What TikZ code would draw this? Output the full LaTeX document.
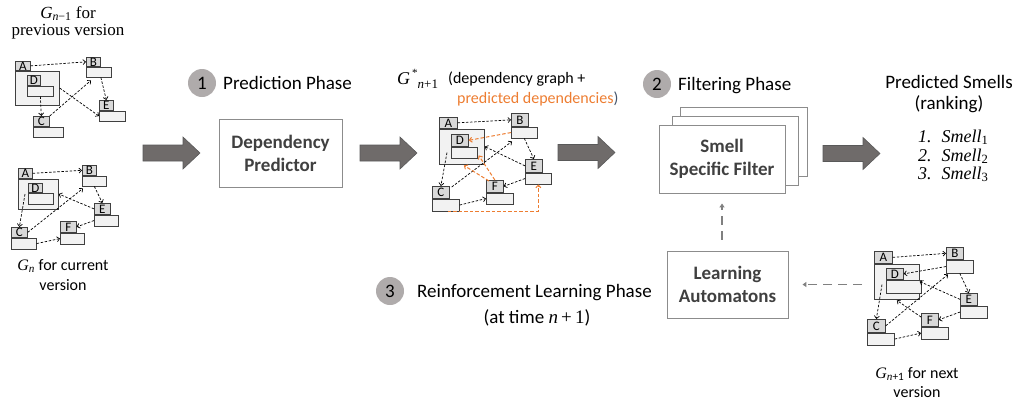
\documentclass[tikz,border=0pt]{standalone}
\usepackage{fontspec}
\newfontfamily\calibri{Carlito}
\newfontfamily\cambria{Liberation Serif}
\usetikzlibrary{arrows.meta,calc}

\definecolor{orangeC}{HTML}{ED7D31}
\definecolor{parenC}{HTML}{44546A}
\definecolor{circleC}{HTML}{AFABAB}
\definecolor{arrowC}{HTML}{6F6B6A}
\definecolor{arrowEdge}{HTML}{595959}
\definecolor{boxEdge}{HTML}{8C8C8C}
\definecolor{boxText}{HTML}{404040}
\definecolor{tabC}{HTML}{D9D9D9}
\definecolor{bodyC}{HTML}{F2F2F2}
\definecolor{clsEdge}{HTML}{404040}
\definecolor{feedC}{HTML}{808080}

% italic and upright formula text set in a text serif
\newcommand\mi[1]{{\cambria\itshape #1}}
\newcommand\mup[1]{{\cambria #1}}

% one class of a dependency graph: a tab with its letter and a body below it
% #1 name prefix, #2 letter, #3/#4 top-left corner, #5/#6 tab size, #7/#8 body size
\newcommand\cls[8]{%
  \node[tabbox, minimum width=#5, minimum height=#6, anchor=north west] (#1t) at (#3,#4) {#2};
  \node[bodybox, minimum width=#7, minimum height=#8, anchor=north west] (#1b) at (#1t.south west) {};
}

% wide block arrow between the stages, #1/#2 = tail end of the shaft (centre line)
\newcommand\fatarrow[2]{%
  \draw[fatarrow] (#1,#2) ++(0,-8) -- ++(40,0) -- ++(0,-8) -- ++(17,16)
        -- ++(-17,16) -- ++(0,-8) -- ++(-40,0) -- cycle;
}

\tikzset{
  phasebox/.style={draw=boxEdge, line width=0.9pt, fill=white, inner sep=0,
    font=\calibri\bfseries\fontsize{19}{23}\selectfont, text=boxText, align=center},
  stepnum/.style={circle, fill=circleC, minimum size=28pt, inner sep=0,
    font=\calibri\fontsize{19}{19}\selectfont},
  captxt/.style={font=\calibri\fontsize{19}{23}\selectfont, inner sep=0, align=center},
  graphcap/.style={font=\calibri\fontsize{16}{20}\selectfont, inner sep=0, align=center},
  serifcap/.style={font=\cambria\fontsize{17}{17}\selectfont, inner sep=0, align=center},
  ranktxt/.style={font=\cambria\fontsize{18}{20}\selectfont, inner sep=0},
  tabbox/.style={draw=clsEdge, fill=tabC, line width=0.7pt, inner sep=0,
    font=\calibri\fontsize{13}{13}\selectfont},
  bodybox/.style={draw=clsEdge, fill=bodyC, line width=0.7pt, inner sep=0},
  dep/.style={draw=black, line width=0.7pt, dash pattern=on 2.5pt off 1.6pt,
    -{Straight Barb[length=2.6pt,width=5pt]}},
  pred/.style={dep, draw=orangeC, line width=1pt, dash pattern=on 3.5pt off 2pt},
  feedback/.style={draw=feedC, line width=1.6pt, dash pattern=on 9pt off 6pt,
    -{Triangle[length=4pt,width=5pt]}},
  fatarrow/.style={fill=arrowC, draw=arrowEdge, line width=0.6pt},
}

\begin{document}
\begin{tikzpicture}[x=1pt,y=-1pt]
\useasboundingbox (0,0) rectangle (1021,400);

% ---------------- G_{n-1}  (base = baseline of the last caption line)
\node[serifcap, anchor=base] (capPrev) at (68,35) {\mi{G}\textsubscript{\mi{n}−1} for\\previous version};
\cls{pA}{A}{15}{61}{15}{9}{44}{34}
\cls{pD}{D}{27}{75}{13}{10}{26}{10}
\cls{pB}{B}{86}{57}{14}{9}{25}{10}
\cls{pE}{E}{99}{100}{14}{10}{26}{10}
\cls{pC}{C}{33}{116}{16}{10}{30}{10}
\draw[dep] (pAt.east) -- (pBt.west);
\draw[dep] (pDb.south) -- (pCt.north);
\draw[dep] (pCt.north east) -- ($(pBb.south west)+(5,3)$);
\draw[dep] (pAb.east) -- (pEb.west);
\draw[dep] ($(pBb.south)+(2,0)$) -- (pEt.north);

% ---------------- G_n
\cls{cA}{A}{18}{168}{14}{10}{40}{30}
\cls{cD}{D}{28}{183}{14}{9}{25}{11}
\cls{cB}{B}{82}{165}{14}{10}{24}{10}
\cls{cE}{E}{94}{203}{16}{11}{24}{11}
\cls{cF}{F}{60}{221}{16}{11}{24}{11}
\cls{cC}{C}{11}{227}{16}{10}{25}{11}
\draw[dep] (cAt.east) -- (cBt.west);
\draw[dep] ($(cAb.west)+(7,0)$) -- (cCt.north);
\draw[dep] (cCt.east) -- ($(cBb.south west)+(1,2)$);
\draw[dep] (cEt.west) -- (cAb.east);
\draw[dep] (cBb.south) -- (cEt.north);
\draw[dep] (cEb.west) -- (cFt.east);
\draw[dep] (cCb.east) -- (cFb.west);
\node[graphcap, anchor=base] (capCur) at (63,290) {\mi{G}\textsubscript{\mi{n}} for current\\version};

% ---------------- stage 1
\fatarrow{143}{153}
\node[stepnum] (c1) at (202,83) {1};
\node[captxt, anchor=base west] (t1) at (223,89) {Prediction Phase};
\node[phasebox, minimum width=123, minimum height=68] (DP) at (280.5,153) {Dependency\\Predictor};
\fatarrow{360}{153}

% ---------------- G*_{n+1}
\node[anchor=base west, inner sep=0, font=\cambria\fontsize{18}{20}\selectfont] (capStar) at (397,84)
  {\mi{G}\hspace{2pt}\raisebox{8pt}{\fontsize{11}{11}\selectfont *}\raisebox{-4pt}{\fontsize{13}{13}\selectfont\mi{n}+1}};
\node[graphcap, anchor=base west] (capStar1) at (448,83) {(dependency graph +};
\node[graphcap, anchor=base west] (capStar2) at (457,103) {\textcolor{orangeC}{predicted dependencies}\textcolor{parenC}{)}};
\cls{sA}{A}{439}{117}{18}{11}{45}{35}
\cls{sD}{D}{451}{134}{17}{12}{26}{11}
\cls{sB}{B}{511}{113}{17}{13}{26}{11}
\cls{sE}{E}{525}{159}{17}{13}{26}{11}
\cls{sF}{F}{486}{180}{17}{12}{27}{11}
\cls{sC}{C}{432}{186}{17}{12}{27}{12}
\draw[dep] (sAt.east) -- (sBt.west);
\draw[dep] ($(sDb.west)+(-4,0)$) -- (sCt.north);
\draw[dep] ($(sCt.north east)+(2,1)$) -- ($(sBb.south west)+(1,3)$);
\draw[dep] (sEt.west) -- (sAb.east);
\draw[dep] (sBb.south) -- (sEt.north);
\draw[dep] (sEb.west) -- (sFt.east);
\draw[dep] (sCb.east) -- (sFb.west);
\draw[pred] (sBb.west) -- (sDt.east);
\draw[pred] (sFt.north) -- ($(sDb.south east)+(1,-3)$);
\draw[pred] ($(sFt.north west)+(3,1)$) -- ($(sAb.south)+(2,1)$);
\draw[pred] ($(sCb.south)+(2,0)$) -| (sEb.south);
\fatarrow{558}{152.5}

% ---------------- stage 2
\node[stepnum] (c2) at (657,84) {2};
\node[captxt, anchor=base west] (t2) at (678,90) {Filtering Phase};
\node[phasebox, minimum width=127, minimum height=69] (SF3) at (743.5,141.5) {};
\node[phasebox, minimum width=126, minimum height=69] (SF2) at (735,150.5) {};
\node[phasebox, minimum width=126, minimum height=68] (SF) at (722,159) {Smell\\Specific Filter};
\fatarrow{823}{153.5}

% ---------------- ranking
\node[captxt, anchor=base] (rk1) at (949,88) {Predicted Smells};
\node[captxt, anchor=base] (rk2) at (949,109) {(ranking)};
\node[ranktxt, anchor=base west] (sm1) at (918,142) {\mi{1.\hspace{10pt}Smell}\textsubscript{1}};
\node[ranktxt, anchor=base west] (sm2) at (918,161) {\mi{2.\hspace{10pt}Smell}\textsubscript{2}};
\node[ranktxt, anchor=base west] (sm3) at (918,179) {\mi{3.\hspace{10pt}Smell}\textsubscript{3}};

% ---------------- stage 3
\node[stepnum] (c3) at (390,291) {3};
\node[captxt, anchor=base west] (t3) at (417,297) {Reinforcement Learning Phase};
\node[captxt, anchor=base] (t3b) at (537,323) {(at time \mi{n}\,\mup{+}\,\mup{1})};
\node[phasebox, minimum width=121, minimum height=67] (LA) at (727.5,284.5) {Learning\\Automatons};

% ---------------- G_{n+1}
\cls{nA}{A}{874}{251}{18}{12}{45}{35}
\cls{nD}{D}{886}{268}{17}{11}{35}{13}
\cls{nB}{B}{946}{247}{17}{12}{27}{13}
\cls{nE}{E}{960}{293}{17}{12}{27}{12}
\cls{nF}{F}{921}{313}{17}{13}{27}{12}
\cls{nC}{C}{867}{319}{18}{13}{27}{12}
\draw[dep] (nAt.east) -- (nBt.west);
\draw[dep] (nBb.west) -- (nDt.east);
\draw[dep] ($(nDb.west)+(-4,-2)$) -- (nCt.north);
\draw[dep] (nCt.east) -- ($(nBb.south west)+(2,1)$);
\draw[dep] (nEt.west) -- (nAb.east);
\draw[dep] (nBb.south) -- (nEt.north);
\draw[dep] (nEb.west) -- (nFt.east);
\draw[dep] ($(nFt.north west)+(0,4)$) -- ($(nAb.south)+(0,1)$);
\draw[dep] (nCb.east) -- (nFb.west);
\node[graphcap, anchor=base, font=\calibri\fontsize{16}{19}\selectfont] (capNext) at (917,397) {\mi{G}\textsubscript{\mi{n}+1} for next\\version};

% ---------------- feedback loop
\draw[feedback, shorten <=12pt, shorten >=14pt] (nAb.west |- LA.east) -- (LA.east);
\draw[feedback, shorten <=11pt, shorten >=10pt] (LA.north -| SF.south) -- (SF.south);
\end{tikzpicture}
\end{document}
